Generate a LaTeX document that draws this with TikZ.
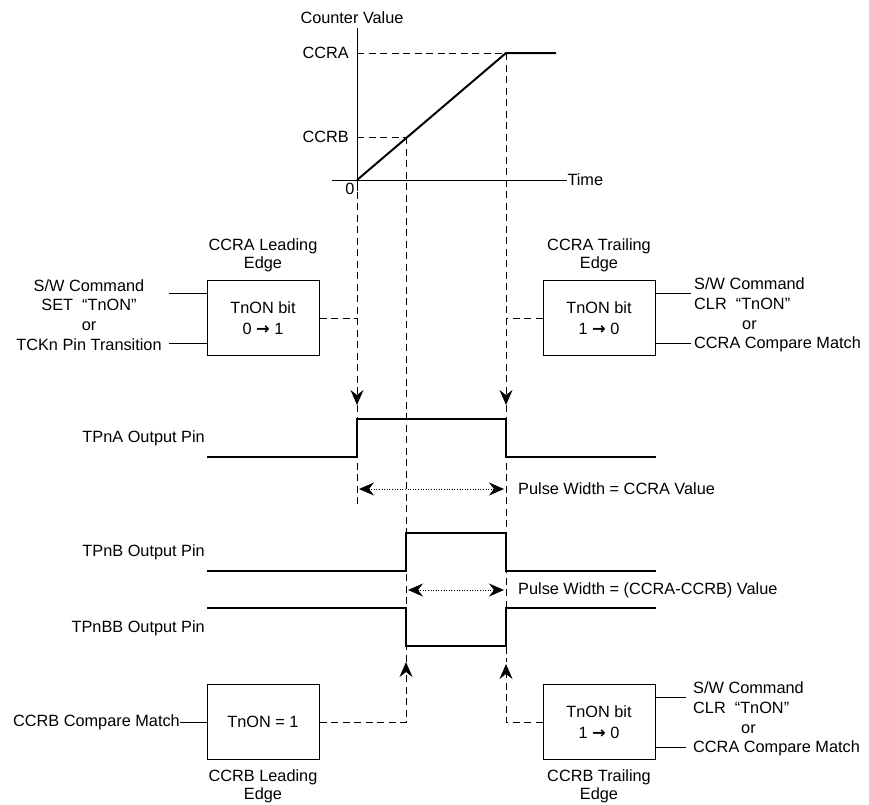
\documentclass[tikz,border=0pt]{standalone}
\usepackage{fontspec}
\setmainfont{Liberation Sans}
\newfontfamily\arrowfont{DejaVu Sans}
\usetikzlibrary{arrows.meta}
\usetikzlibrary{positioning}
\newcommand{\tog}{{\arrowfont\bfseries →}}
\tikzset{txt/.style = {inner sep = 0, font = \fontsize{16.3}{19.7}\selectfont}}
\tikzset{ttl/.style = {inner sep = 0, align = center, font = \fontsize{16.3}{18}\selectfont}}
\tikzset{blk/.style = {draw, line width = 1pt, minimum width = 112pt, minimum height = 75pt,
                       inner sep = 0, align = center, font = \fontsize{16.3}{21}\selectfont}}
\tikzset{wire/.style = {line width = 1pt}}
\tikzset{sig/.style = {line width = 2.4pt}}
\tikzset{ramp/.style = {line width = 2pt}}
\tikzset{guide/.style = {line width = 1pt, dash pattern = on 7pt off 4.5pt}}
\tikzset{span/.style = {line width = 1pt, dash pattern = on 1pt off 1.6pt, <->}}

\begin{document}
\begin{tikzpicture}[x = 1pt, y = -1pt, >={Stealth[length = 15pt, width = 13pt, inset = 5pt]}]
    \useasboundingbox (0, 0) rectangle (869, 804);

    \coordinate (origin) at (357, 180);
    \coordinate (ccra) at (506, 53);
    \coordinate (ccrb) at (406, 137);
    \draw [wire] (357, 191) -- (357, 28);
    \draw [wire] (332, 180) -- (567, 180) node [txt, anchor = west] (time) {Time};
    \node [txt] (cntval) at (352, 18) {Counter Value};
    \node [txt, anchor = east] (lvlA) at (349, 53) {CCRA};
    \node [txt, anchor = east] (lvlB) at (349, 137) {CCRB};
    \node [txt] (zero) at (350, 189) {0};
    \draw [ramp] (origin) -- (ccra) -- (556, 53);
    \draw [guide] (357, 53) -- (ccra);
    \draw [guide] (357, 137) -- (ccrb);

    \draw [guide, ->] (origin) -- (357, 405);
    \draw [guide] (357, 405) -- (357, 507);
    \draw [guide, ->] (ccra) -- (506, 405);
    \draw [guide] (506, 405) -- (506, 662);
    \draw [guide] (ccrb) -- (406, 662);

    \node [blk] (ccraLead) at (263, 318) {TnON bit\\0 \tog{} 1};
    \node [ttl, above = 8pt of ccraLead] (ccraLeadT) {CCRA Leading\\Edge};
    \node [txt, align = center] (setIn) at (89, 315) {S/W Command\\SET~~“TnON”\\or\\TCKn Pin Transition};
    \draw [wire] (169, 293) -- (ccraLead.west |- 0, 293);
    \draw [wire] (169, 343) -- (ccraLead.west |- 0, 343);
    \draw [guide] (ccraLead.east) -- (ccraLead.east -| origin);

    \node [blk] (ccraTrail) at (599, 318) {TnON bit\\1 \tog{} 0};
    \node [ttl, above = 8pt of ccraTrail] (ccraTrailT) {CCRA Trailing\\Edge};
    \node [txt, align = left, anchor = west] (clrA) at (694, 315) {S/W Command\\CLR~~“TnON”\\\hspace*{48pt}or\\CCRA Compare Match};
    \draw [wire] (ccraTrail.east |- 0, 293) -- (691, 293);
    \draw [wire] (ccraTrail.east |- 0, 343) -- (691, 343);
    \draw [guide] (ccraTrail.west) -- (ccraTrail.west -| ccra);

    \node [txt, anchor = east] (pinA) at (205, 438) {TPnA Output Pin};
    \draw [sig] (207, 457) -- (357, 457) -- (357, 419) -- (506, 419) -- (506, 457) -- (656, 457);
    \draw [span] (359, 489) -- (504, 489);
    \node [txt, anchor = west] (pwA) at (518, 489) {Pulse Width = CCRA Value};

    \node [txt, anchor = east] (pinB) at (205, 552) {TPnB Output Pin};
    \draw [sig] (207, 571) -- (406, 571) -- (406, 533) -- (506, 533) -- (506, 571) -- (656, 571);
    \draw [span] (408, 590) -- (504, 590);
    \node [txt, anchor = west] (pwB) at (518, 590) {Pulse Width = (CCRA-CCRB) Value};

    \node [txt, anchor = east] (pinBB) at (205, 628) {TPnBB Output Pin};
    \draw [sig] (207, 608) -- (406, 608) -- (406, 646) -- (506, 646) -- (506, 608) -- (656, 608);

    \node [blk] (ccrbLead) at (263, 722) {TnON = 1};
    \node [ttl, below = 9pt of ccrbLead] (ccrbLeadT) {CCRB Leading\\Edge};
    \node [txt, anchor = east] (cmpB) at (180, 722) {CCRB Compare Match};
    \draw [wire] (cmpB.east) -- (ccrbLead.west);
    \draw [guide, ->] (ccrbLead.east) -- (ccrbLead.east -| ccrb) -- (406, 662);

    \node [blk] (ccrbTrail) at (599, 722) {TnON bit\\1 \tog{} 0};
    \node [ttl, below = 9pt of ccrbTrail] (ccrbTrailT) {CCRB Trailing\\Edge};
    \node [txt, align = left, anchor = west] (clrB) at (693, 719) {S/W Command\\CLR~~“TnON”\\\hspace*{48pt}or\\CCRA Compare Match};
    \draw [wire] (ccrbTrail.east |- 0, 697) -- (686, 697);
    \draw [wire] (ccrbTrail.east |- 0, 747) -- (686, 747);
    \draw [guide, ->] (ccrbTrail.west) -- (ccrbTrail.west -| ccra) -- (506, 664);
\end{tikzpicture}
\end{document}
